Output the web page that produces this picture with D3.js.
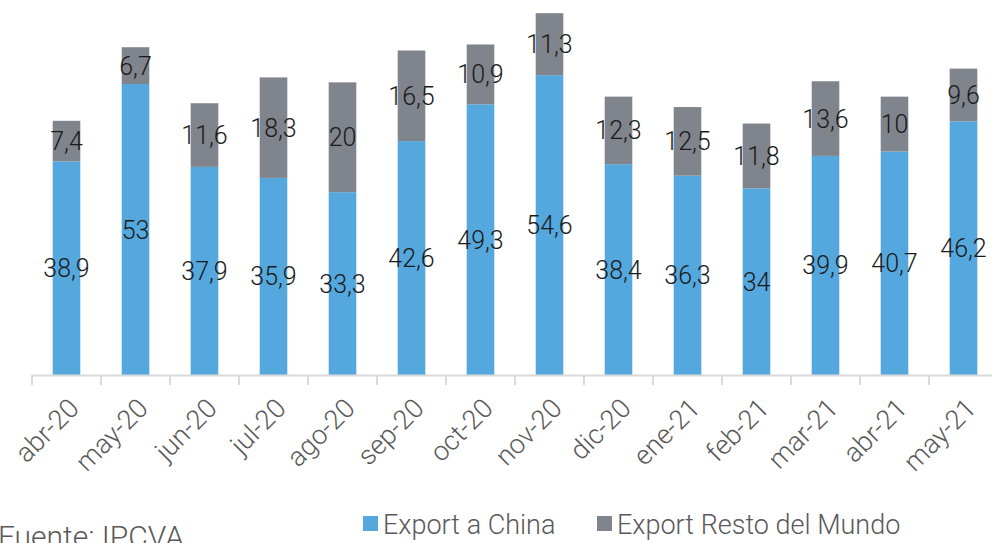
<!DOCTYPE html>
<html>
<head>
<meta charset="utf-8">
<script src="https://cdn.jsdelivr.net/npm/d3@7"></script>
<style>
  body { margin: 0; background: #fff; }
  text { font-family: "Roboto", "Noto Sans", sans-serif; font-weight: 300; }
</style>
</head>
<body>
<script>
var categories = ["abr-20", "may-20", "jun-20", "jul-20", "ago-20", "sep-20", "oct-20",
                  "nov-20", "dic-20", "ene-21", "feb-21", "mar-21", "abr-21", "may-21"];
var chinaValues = [38.9, 53, 37.9, 35.9, 33.3, 42.6, 49.3, 54.6, 38.4, 36.3, 34, 39.9, 40.7, 46.2];
var restoValues = [7.4, 6.7, 11.6, 18.3, 20, 16.5, 10.9, 11.3, 12.3, 12.5, 11.8, 13.6, 10, 9.6];
var seriesNames = ["Export a China", "Export Resto del Mundo"];
var seriesColors = ["#55a8dd", "#80848c"];

var width = 992, height = 543;
var svg = d3.select("body").append("svg")
    .attr("width", width)
    .attr("height", height);

// axis runs past the right edge, like the original image
var x = d3.scaleBand().domain(categories).range([32, 998]).paddingInner(0.6).paddingOuter(0.3);
var y = d3.scaleLinear().domain([0, 68.3]).range([375, 0]);

var rows = categories.map(function(c, i) {
    return { cat: c, china: chinaValues[i], resto: restoValues[i] };
});
var stacked = d3.stack().keys(["china", "resto"])(rows);

var g = svg.selectAll("g.series")
    .data(stacked)
    .enter().append("g")
    .attr("fill", function(d, i) { return seriesColors[i]; });

g.selectAll("rect")
    .data(function(d) { return d; })
    .enter().append("rect")
    .attr("x", function(d) { return x(d.data.cat); })
    .attr("width", x.bandwidth())
    .attr("y", function(d) { return y(d[1]); })
    .attr("height", function(d) { return y(d[0]) - y(d[1]); });

// value labels in the middle of each segment
svg.selectAll("g.labels")
    .data(stacked)
    .enter().append("g")
    .selectAll("text")
    .data(function(d) { return d; })
    .enter().append("text")
    .attr("x", function(d) { return x(d.data.cat) + x.bandwidth() / 2; })
    .attr("y", function(d) { return (y(d[0]) + y(d[1])) / 2 + 9; })
    .attr("text-anchor", "middle")
    .attr("font-size", 25)
    .attr("fill", "#1a1a1a")
    .text(function(d) { return String(+(d[1] - d[0]).toFixed(1)).replace(".", ","); });

// x axis with ticks between categories
var tickPos = d3.range(categories.length + 1).map(function(i) { return 32 + i * x.step(); });
svg.append("line")
    .attr("x1", 32).attr("x2", 998)
    .attr("y1", 375.5).attr("y2", 375.5)
    .attr("stroke", "#d9d9d9").attr("stroke-width", 2);
svg.selectAll("line.tick")
    .data(tickPos)
    .enter().append("line")
    .attr("x1", function(d) { return d; }).attr("x2", function(d) { return d; })
    .attr("y1", 375).attr("y2", 385)
    .attr("stroke", "#d9d9d9").attr("stroke-width", 2);

svg.selectAll("text.cat")
    .data(categories)
    .enter().append("text")
    .attr("transform", function(d) {
        return "translate(" + (x(d) + x.bandwidth() / 2 + 14) + ",410) rotate(-45)";
    })
    .attr("text-anchor", "end")
    .attr("font-size", 27)
    .attr("fill", "#595959")
    .text(function(d) { return d; });

// legend
var legendX = [363, 597];
seriesNames.forEach(function(name, i) {
    svg.append("rect")
        .attr("x", legendX[i]).attr("y", 516)
        .attr("width", 15).attr("height", 15)
        .attr("fill", seriesColors[i]);
    svg.append("text")
        .attr("x", legendX[i] + 20).attr("y", 534)
        .attr("font-size", 27)
        .attr("fill", "#595959")
        .text(name);
});

svg.append("text")
    .attr("x", -2).attr("y", 547)
    .attr("font-size", 30)
    .attr("fill", "#595959")
    .text("Fuente: IPCVA");
</script>
</body>
</html>
